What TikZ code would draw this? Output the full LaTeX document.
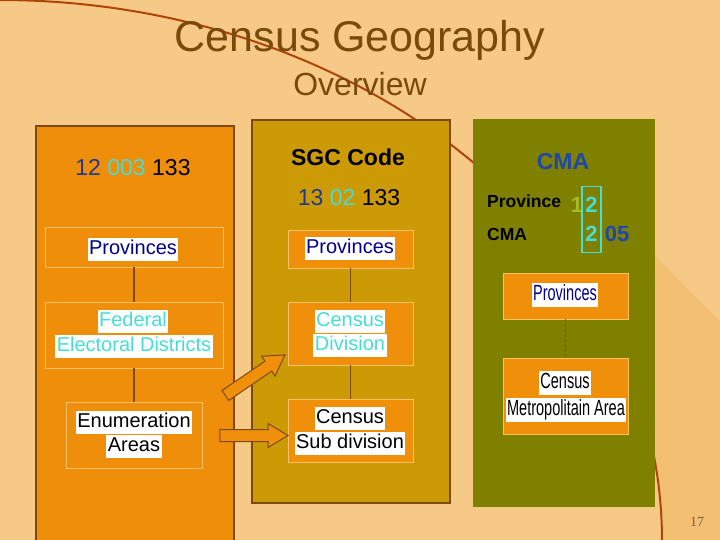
\documentclass[tikz,border=0pt]{standalone}
\usepackage{fontspec}
\setmainfont{Liberation Sans}
\newfontfamily\narrowfont[FakeStretch=0.66]{Liberation Sans}
\newfontfamily\pagefont{Liberation Serif}
\usetikzlibrary{shapes.arrows}
\definecolor{bg}{HTML}{F6C987}
\definecolor{bgdark}{HTML}{F3C073}
\definecolor{curvec}{HTML}{B0450C}
\definecolor{panelA}{HTML}{EE8E0B}
\definecolor{panelB}{HTML}{CC9A05}
\definecolor{panelC}{HTML}{808000}
\definecolor{borderc}{HTML}{7B4A12}
\definecolor{framec}{HTML}{F9C262}
\definecolor{navy}{HTML}{00008C}
\definecolor{turq}{HTML}{45DDD8}
\definecolor{dblue}{HTML}{1F3A8F}
\definecolor{cmablue}{HTML}{1E47A8}
\definecolor{limec}{HTML}{A0BE1E}
\definecolor{titlec}{HTML}{7A4A0A}
\definecolor{boxorange}{HTML}{F0900A}
\definecolor{pagec}{HTML}{7F5E3C}
\tikzset{
  panel/.style={anchor=north west, inner sep=0pt, outer sep=0pt},
  levelbox/.style={draw=framec, line width=0.8pt, inner sep=0pt},
  lbl/.style={fill=white, inner xsep=1.5pt, inner ysep=1.5pt, text height=15pt, text depth=5pt, font=\fontsize{20}{24}\selectfont},
  nlbl/.style={lbl, text height=16pt, text depth=4.5pt, font=\narrowfont\fontsize{22}{26}\selectfont},
  link/.style={draw=borderc, line width=1.5pt},
  blockarrow/.style={single arrow, draw=borderc, fill=boxorange, line width=1pt, inner sep=5.5pt, single arrow head extend=6pt, single arrow tip angle=62},
}
\begin{document}
\begin{tikzpicture}[x=1pt,y=-1pt]
\useasboundingbox (0,0) rectangle (720,540);
\clip (0,0) rectangle (720,540);
% background
\fill[bg] (0,0) rectangle (720,540);
\fill[bgdark] plot[domain=57:90, samples=40] ({662*sin(\x)}, {540-540*cos(\x)}) -- (720,540) -- (720,322) -- (645,245) -- cycle;
\draw[curvec, line width=2pt] plot[domain=0:90, samples=120, smooth] ({662*sin(\x)}, {540-540*cos(\x)});
% title
\node[text=titlec, font=\fontsize{43}{50}\selectfont] (title) at (360,40) {Census Geography};
\node[text=titlec, font=\fontsize{32}{38}\selectfont] (subtitle) at (360,84) {Overview};
% panels
\node[panel, fill=panelA, draw=borderc, line width=2pt, minimum width=198pt, minimum height=430pt] (pA) at (36,126) {};
\node[panel, fill=panelB, draw=borderc, line width=2pt, minimum width=198pt, minimum height=383pt] (pB) at (252,120) {};
\node[panel, fill=panelC, minimum width=182pt, minimum height=388pt] (pC) at (473,119) {};
% ---------- left panel
\node[font=\fontsize{23}{28}\selectfont] (codeA) at (133,168) {{\color{dblue}12} {\color{turq}003} 133};
\node[levelbox, minimum width=178pt, minimum height=40pt] (aProv) at (134,247) {};
\node[levelbox, minimum width=178pt, minimum height=66pt] (aFed) at (134,335) {};
\node[levelbox, minimum width=136pt, minimum height=66pt] (aEnum) at (134,435) {};
\draw[link] (aProv.south) -- (aFed.north);
\draw[link] (aFed.south) -- (aEnum.north);
\node[lbl, text=navy] (aProvT) at (133,249.5) {Provinces};
\node[lbl, text=turq] (aFedT1) at (133,321.5) {Federal};
\node[lbl, text=turq] (aFedT2) at (134,346) {Electoral Districts};
\node[lbl, text=black] (aEnumT1) at (134,422) {Enumeration};
\node[lbl, text=black] (aEnumT2) at (134,446) {Areas};
% ---------- SGC panel
\node[font=\bfseries\fontsize{23}{28}\selectfont] (sgc) at (348,157) {SGC Code};
\node[font=\fontsize{23}{28}\selectfont] (codeB) at (349,198) {{\color{dblue}13} {\color{turq}02} 133};
\node[levelbox, fill=boxorange, minimum width=125pt, minimum height=38pt] (bProv) at (350.5,249) {};
\node[levelbox, fill=boxorange, minimum width=125pt, minimum height=63pt] (bDiv) at (350.5,333.5) {};
\node[levelbox, fill=boxorange, minimum width=125pt, minimum height=63pt] (bSub) at (350.5,430.5) {};
\draw[link] (bProv.south) -- (bDiv.north);
\draw[link] (bDiv.south) -- (bSub.north);
\node[lbl, text=navy] (bProvT) at (350,248.5) {Provinces};
\node[lbl, text=turq] (bDivT1) at (350,321) {Census};
\node[lbl, text=turq] (bDivT2) at (350,345) {Division};
\node[lbl, text=black] (bSubT1) at (350,418.5) {Census};
\node[lbl, text=black] (bSubT2) at (350,443) {Sub division};
% ---------- CMA panel
\node[text=cmablue, font=\bfseries\fontsize{23}{28}\selectfont] (cmaT) at (563,162) {CMA};
\node[anchor=west, font=\bfseries\fontsize{17.5}{21}\selectfont, inner sep=0pt] (provL) at (487,201) {Province};
\node[anchor=west, font=\bfseries\fontsize{17.5}{21}\selectfont, inner sep=0pt] (cmaL) at (487,234) {CMA};
\node[text=limec, font=\bfseries\fontsize{22}{26}\selectfont, inner sep=0pt] (d1) at (577,204.5) {1};
\node[text=turq, font=\bfseries\fontsize{22}{26}\selectfont, inner sep=0pt] (d2a) at (591.5,204.5) {2};
\node[text=turq, font=\bfseries\fontsize{22}{26}\selectfont, inner sep=0pt] (d2b) at (591.5,234) {2};
\node[text=cmablue, font=\bfseries\fontsize{22}{26}\selectfont, inner sep=0pt] (d05) at (617,234) {05};
\node[draw=turq, line width=1.5pt, minimum width=19pt, minimum height=66pt, inner sep=0pt] (frame2) at (591.5,219.5) {};
\node[levelbox, fill=boxorange, minimum width=125pt, minimum height=46pt] (cProv) at (565.5,296) {};
\node[levelbox, fill=boxorange, minimum width=125pt, minimum height=76pt] (cCMA) at (565.5,396) {};
\draw[link, line width=1pt, dash pattern=on 3pt off 2pt] (cProv.south) -- (cCMA.north);
\node[nlbl, text=navy] (cProvT) at (565,295) {Provinces};
\node[nlbl, text=black] (cCMAT1) at (565,383) {Census};
\node[nlbl, text=black] (cCMAT2) at (566,410) {Metropolitain Area};
% ---------- block arrows
\node[blockarrow, minimum height=72pt, rotate=34.3] (arrDiag) at (251,378) {};
\node[blockarrow, minimum height=68pt] (arrHor) at (249,435.5) {};
% page number
\node[text=pagec, font=\pagefont\fontsize{14}{16}\selectfont] (pageno) at (697,522) {17};
\end{tikzpicture}
\end{document}
